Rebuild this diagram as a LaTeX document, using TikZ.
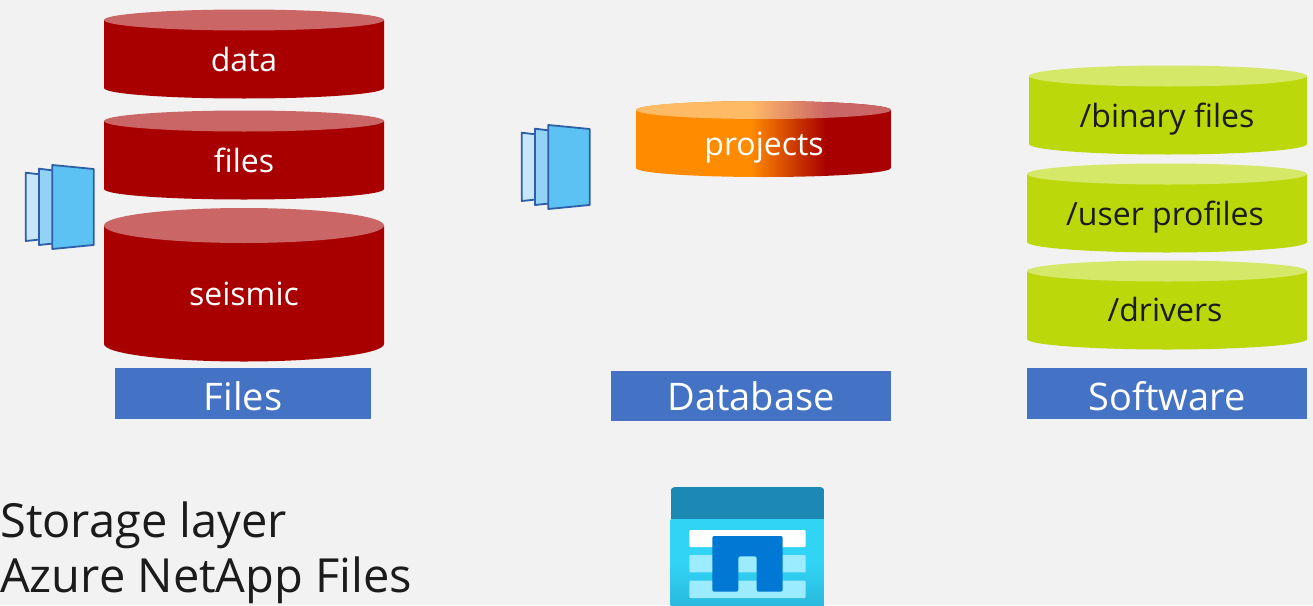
\documentclass[tikz,border=0pt]{standalone}
\usepackage{fontspec}
\setmainfont{Open Sans}
\definecolor{bg}{HTML}{F2F2F2}
\definecolor{redb}{HTML}{A80000}
\definecolor{redt}{HTML}{CB6666}
\definecolor{limeb}{HTML}{BAD80A}
\definecolor{limet}{HTML}{D6E868}
\definecolor{orb}{HTML}{FF8C00}
\definecolor{ort}{HTML}{FFBA66}
\definecolor{lblue}{HTML}{4472C4}
\definecolor{ink}{HTML}{1B1B1B}
\definecolor{edgeb}{HTML}{2E5FA8}
\definecolor{p1}{HTML}{C7E6FA}
\definecolor{p2}{HTML}{93D2F5}
\definecolor{p3}{HTML}{5BC2F3}
\definecolor{azbody}{HTML}{32D4F5}
\definecolor{azlow}{HTML}{29BADE}
\definecolor{azhead}{HTML}{1B89B4}
\definecolor{azbar}{HTML}{9CEBFF}
\definecolor{azn}{HTML}{0078D4}
\newcommand{\cyl}[7]{% x1,x2,cy top,cy bottom,ry,body,top
  \fill[#6] (#1,#3) -- (#1,#4) arc[x radius={(#2-#1)/2},y radius=#5,start angle=180,end angle=0] -- (#2,#3) -- cycle;
  \fill[#7] ({(#1+#2)/2},#3) ellipse[x radius={(#2-#1)/2},y radius=#5];
}
\newcommand{\stackicon}[2]{%
  \begin{scope}[shift={(#1,#2)}]
    \filldraw[pane,fill=p1] (25.7,172.7) -- (45,175) -- (45,239) -- (25.7,241) -- cycle;
    \filldraw[pane,fill=p2] (39,168.7) -- (58,171) -- (58,243) -- (39,245) -- cycle;
    \filldraw[pane,fill=p3] (52.3,165) -- (93.7,169) -- (93.7,245) -- (52.3,249) -- cycle;
  \end{scope}}
\tikzset{
  pane/.style={draw=edgeb,line width=1.8pt,line join=round},
  cyltext/.style={font=\fontsize{32}{36}\selectfont,text=white,inner sep=0pt,anchor=center},
  softtext/.style={font=\fontsize{32}{36}\selectfont,text=ink,inner sep=0pt,anchor=center},
  tag/.style={fill=lblue,text=white,font=\fontsize{38}{42}\selectfont,inner sep=0pt,anchor=center},
  heading/.style={font=\fontsize{47}{58}\selectfont,text=ink,inner sep=0pt,anchor=west}
}
\begin{document}
\begin{tikzpicture}[x=1pt,y=-1pt]
\useasboundingbox (0,0) rectangle (1313,605);
\fill[bg] (0,0) rectangle (1313,605);
% red cylinders
\cyl{104}{384}{20}{88}{10.5}{redb}{redt}
\cyl{104}{384}{121}{189}{10.5}{redb}{redt}
\cyl{104}{384}{225.5}{344}{17.5}{redb}{redt}
\node[cyltext] (data) at (244,59) {data};
\node[cyltext] (files) at (244,160) {files};
\node[cyltext] (seismic) at (244,293.5) {seismic};
% projects cylinder
\begin{scope}
  \clip (636,110) -- (636,168) arc[x radius=127.5,y radius=9,start angle=180,end angle=0] -- (891,110) arc[x radius=127.5,y radius=9,start angle=0,end angle=-180] -- cycle;
  \fill[orb] (636,100) rectangle (751,178);
  \shade[left color=orb,right color=redb] (750,100) rectangle (826,178);
  \fill[redb] (825,100) rectangle (891,178);
  \begin{scope}
    \clip (763.5,110) ellipse[x radius=127.5,y radius=9];
    \fill[ort] (636,100) rectangle (751,120);
    \shade[left color=ort,right color=redt] (750,100) rectangle (826,120);
    \fill[redt] (825,100) rectangle (891,120);
  \end{scope}
\end{scope}
\node[cyltext] (projects) at (764,148) {projects};
% lime cylinders
\cyl{1029}{1307}{76}{144}{10.5}{limeb}{limet}
\cyl{1027}{1307}{174}{242}{10.5}{limeb}{limet}
\cyl{1027}{1307}{271}{339}{10.5}{limeb}{limet}
\node[softtext] (binary) at (1167,119) {/binary files};
\node[softtext] (profiles) at (1165,217) {/user profiles};
\node[softtext] (drivers) at (1165,309) {/drivers};
% tags
\node[tag,minimum width=256pt,text height=42.5pt,text depth=8pt] (tfiles) at (243,393.25) {Files};
\node[tag,minimum width=280pt,text height=39.5pt,text depth=10.5pt] (tdb) at (751,396) {Database};
\node[tag,minimum width=280pt,text height=42.5pt,text depth=8pt] (tsoft) at (1167,393.25) {Software};
% panes
\stackicon{0}{0}
\stackicon{496}{-40}
% headings
\node[heading] (h1) at (0,525) {Storage layer};
\node[heading] (h2) at (0,580) {Azure NetApp Files};
% netapp icon
\begin{scope}
  \clip[rounded corners=4pt] (670.7,487) rectangle (824.3,640);
  \shade[top color=azbody,bottom color=azlow,middle color=azbody] (670.7,519) rectangle (824.3,605);
  \fill[azhead] (670.7,487) rectangle (824.3,519.3);
\end{scope}
\fill[white,rounded corners=1pt] (689.3,530) rectangle (805.7,547);
\fill[azbar,rounded corners=1pt] (689.3,555) rectangle (805.7,572.3);
\fill[azbar,rounded corners=1pt] (689.3,580.7) rectangle (805.7,598);
\fill[azn,rounded corners=2pt] (712.3,536) -- (782.7,536) -- (782.7,591.7) -- (756.7,591.7) -- (756.7,556.3) -- (738.3,556.3) -- (738.3,591.7) -- (712.3,591.7) -- cycle;
\end{tikzpicture}
\end{document}
